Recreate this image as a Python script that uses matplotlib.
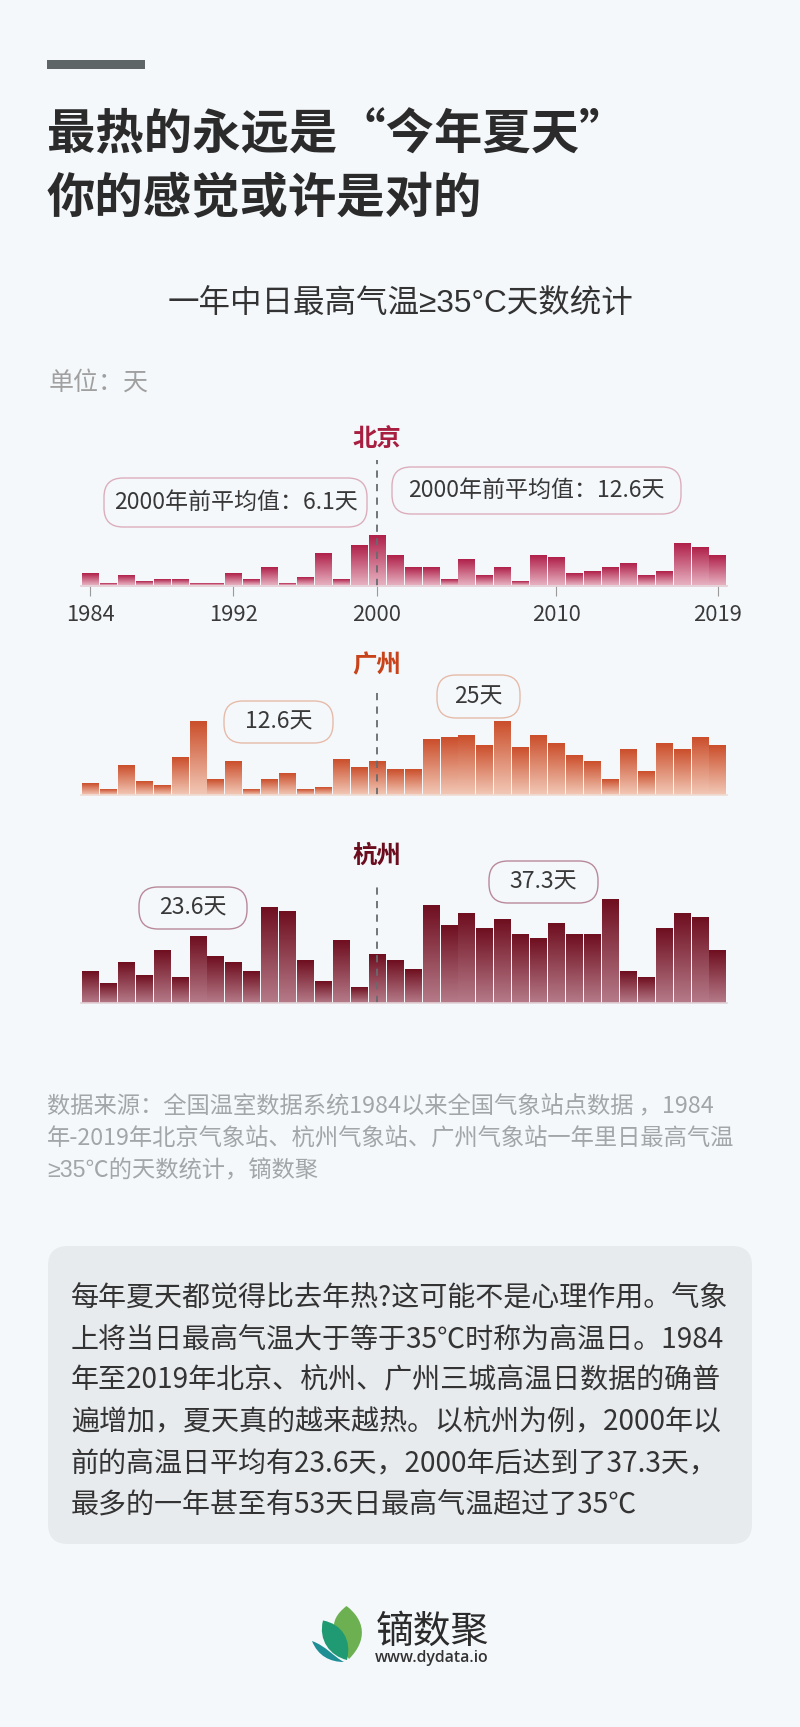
#高温日数统计长图
import numpy as np
import matplotlib.pyplot as plt
from matplotlib.patches import FancyBboxPatch, PathPatch, Rectangle
from matplotlib.path import Path
from matplotlib.colors import LinearSegmentedColormap

plt.rcParams['font.family'] = ['Noto Sans CJK SC', 'DejaVu Sans']
LATIN_FIRST = ['Liberation Sans', 'Noto Sans CJK SC']

years = list(range(1984, 2020))
tick_years = [1984, 1992, 2000, 2010, 2019]
beijing = [6, 1, 5, 2, 3, 3, 1, 1, 6, 3, 9, 1, 4, 16, 3, 20, 25, 15, 9, 9, 3, 13, 5, 9, 2, 15, 14, 6, 7, 9, 11, 5, 7, 21, 19, 15]
guangzhou = [6, 3, 15, 7, 5, 19, 37, 8, 17, 3, 8, 11, 3, 4, 18, 14, 17, 13, 13, 28, 29, 30, 25, 37, 24, 30, 26, 20, 17, 8, 23, 12, 26, 23, 29, 25]
hangzhou = [16, 10, 21, 14, 27, 13, 34, 24, 21, 16, 49, 47, 22, 11, 32, 8, 25, 22, 17, 50, 40, 46, 38, 43, 35, 33, 41, 35, 35, 53, 16, 13, 38, 46, 44, 27]

W, H = 800, 1727
BG = '#f4f8fb'
fig = plt.figure(figsize=(W / 100, H / 100), dpi=100, facecolor=BG)

# 底层用像素坐标放文字和装饰
bg = fig.add_axes([0, 0, 1, 1])
bg.set_xlim(0, W)
bg.set_ylim(H, 0)
bg.axis('off')

bg.add_patch(Rectangle((47, 59.5), 98, 9, color='#5d6566', lw=0))
for y, s in [(134.5, '最热的永远是“今年夏天”'), (199, '你的感觉或许是对的')]:
    bg.text(47, y, s, fontsize=34.8, fontweight='bold', color='#2b2b2b', va='center', ha='left')
bg.text(400, 304, '一年中日最高气温≥35°C天数统计', fontsize=22.7, color='#333333', va='center', ha='center', family=LATIN_FIRST)
bg.text(49, 383, '单位：天', fontsize=18, color='#a0a0a0', va='center', ha='left')


def callout(x0, x1, y0, y1, text, edge):
    r = 19
    bg.add_patch(FancyBboxPatch((x0 + r, y0 + r), x1 - x0 - 2 * r, y1 - y0 - 2 * r,
                                boxstyle=f'round,pad={r},rounding_size={r}', fc='none', ec=edge, lw=1.0))
    bg.text((x0 + x1) / 2, (y0 + y1) / 2, text, fontsize=16.6, color='#383838', va='center', ha='center')


def chart(values, base, top, ppd, colors, edge, show_ticks=False):
    # 横轴按年份、纵轴按天数，换算到整图上的像素位置
    ax = fig.add_axes([0, 1 - base / H, 1, (base - top) / H])
    ax.patch.set_alpha(0)
    step = 17.93
    left = 1984 - 90 / step
    cmap = LinearSegmentedColormap.from_list('c', colors)
    bars = ax.bar(years, values, width=0.9, color='none', linewidth=0)
    for b in bars:
        ax.imshow(np.linspace(0, 1, 64).reshape(-1, 1), extent=(b.get_x(), b.get_x() + b.get_width(), 0, b.get_height()),
                  aspect='auto', cmap=cmap, vmin=0, vmax=1, interpolation='bilinear', origin='upper')
    ax.set_xlim(left, left + W / step)
    ax.set_ylim(0, (base - top) / ppd)
    ax.axvline(2000, color='#666b70', ls=(0, (4, 3.5)), lw=1.3)
    for s in ['left', 'right', 'top']:
        ax.spines[s].set_visible(False)
    ax.spines['bottom'].set_bounds(1983.5, 2019.5)
    ax.spines['bottom'].set_color(edge)
    ax.spines['bottom'].set_linewidth(1.2)
    ax.set_yticks([])
    if show_ticks:
        ax.set_xticks(tick_years)
        ax.tick_params(axis='x', length=7, width=0.8, color='#9a9a9a', labelsize=15.8, labelcolor='#3a3a3a', pad=6)
    else:
        ax.set_xticks([])
    return ax


# 北京
bg.text(377, 439, '北京', fontsize=17.6, fontweight='bold', color='#a81e40', va='center', ha='center')
callout(104, 367, 478, 527, '2000年前平均值：6.1天', '#dcaebc')
callout(392, 681, 467, 514, '2000年前平均值：12.6天', '#dcaebc')
chart(beijing, 585.5, 460, 2.0, ['#b0214a', '#e6b0c0'], '#e4ccd3', show_ticks=True)

# 广州
bg.text(377, 665, '广州', fontsize=17.6, fontweight='bold', color='#c8431a', va='center', ha='center')
callout(224, 333, 701, 743, '12.6天', '#e6bba9')
callout(437, 520, 675, 718, '25天', '#e6bba9')
chart(guangzhou, 794.5, 689, 1.98, ['#cb4f2c', '#f2c8b6'], '#efdcd3')

# 杭州
bg.text(377, 856, '杭州', fontsize=17.6, fontweight='bold', color='#6b0d1e', va='center', ha='center')
callout(139, 247, 887, 929, '23.6天', '#b9899a')
callout(489, 598, 861, 903, '37.3天', '#b9899a')
chart(hangzhou, 1003, 883, 1.95, ['#6f0f20', '#b57a88'], '#e2d2d6')

# 数据来源
source_lines = ['数据来源：全国温室数据系统1984以来全国气象站点数据 ，1984',
                '年-2019年北京气象站、杭州气象站、广州气象站一年里日最高气温',
                '≥35℃的天数统计，镝数聚']
for y, s in zip([1106.5, 1139, 1171], source_lines):
    bg.text(47, y, s, fontsize=16.75, color='#a3a6a8', va='center', ha='left', family=LATIN_FIRST if s[0] == '≥' else None)

# 文字框
bg.add_patch(FancyBboxPatch((68, 1266), 664, 258, boxstyle='round,pad=20,rounding_size=20', fc='#e8ebee', ec='none'))
body_lines = ['每年夏天都觉得比去年热?这可能不是心理作用。气象',
              '上将当日最高气温大于等于35℃时称为高温日。1984',
              '年至2019年北京、杭州、广州三城高温日数据的确普',
              '遍增加，夏天真的越来越热。以杭州为例，2000年以',
              '前的高温日平均有23.6天，2000年后达到了37.3天，',
              '最多的一年甚至有53天日最高气温超过了35℃']
for y, s in zip([1297, 1339, 1380, 1422, 1464, 1504], body_lines):
    bg.text(71, y, s, fontsize=20.2, color='#333333', va='center', ha='left')


# 标志
def leaf(p0, c0, c1, p1, c2, c3, color):
    verts = [p0, c0, c1, p1, c2, c3, p0]
    codes = [Path.MOVETO, Path.CURVE4, Path.CURVE4, Path.CURVE4, Path.CURVE4, Path.CURVE4, Path.CURVE4]
    bg.add_patch(PathPatch(Path(verts, codes), fc=color, ec='none'))


leaf((346.5, 1606), (326, 1622), (333, 1636), (349, 1659), (368, 1640), (365, 1620), '#6cb052')
leaf((323, 1620.5), (318, 1640), (330, 1656), (347, 1660), (352, 1640), (342, 1624), '#1f9a72')
leaf((312, 1641), (318, 1656), (330, 1662), (344, 1662), (334, 1657), (326, 1646), '#1f8f96')
bg.text(432, 1632, '镝数聚', fontsize=27.2, color='#2b2b2b', va='center', ha='center')
bg.text(432, 1658, 'www.dydata.io', fontsize=11.4, color='#333333', va='center', ha='center', family='Open Sans', fontweight='semibold')

fig.savefig('out.png', dpi=100, facecolor=BG)
